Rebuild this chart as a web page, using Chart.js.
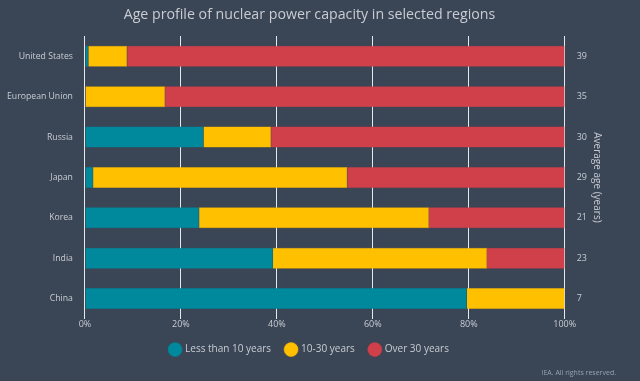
<!DOCTYPE html>
<html>
<head>
<meta charset="utf-8">
<script src="https://cdn.jsdelivr.net/npm/chart.js@4"></script>
<style>
  html, body { margin: 0; padding: 0; background: #3a4556; }
  #wrap { width: 640px; height: 381px; position: relative; }
</style>
</head>
<body>
<div id="wrap"><canvas id="c" width="640" height="381"></canvas></div>
<script>
const categories = ['United States', 'European Union', 'Russia', 'Japan', 'Korea', 'India', 'China'];
const lessThan10 = [0.7, 0, 24.7, 1.7, 23.8, 39.2, 79.6];
const tenTo30 = [8.1, 16.7, 14.1, 53.0, 47.9, 44.6, 20.4];
const over30 = [91.2, 83.3, 61.2, 45.3, 28.3, 16.2, 0];
const averageAge = ['39', '35', '30', '29', '21', '23', '7'];
const xTicks = [0, 20, 40, 60, 80, 100];

const textColor = '#c9cdd3';
const fontFamily = '"Open Sans", sans-serif';

new Chart(document.getElementById('c'), {
  type: 'bar',
  data: {
    labels: categories,
    datasets: [
      { label: 'Less than 10 years', data: lessThan10, backgroundColor: '#00889d', borderColor: '#007f92', borderWidth: 0.5 },
      { label: '10-30 years', data: tenTo30, backgroundColor: '#ffc000', borderColor: '#e8a800', borderWidth: 0.5 },
      { label: 'Over 30 years', data: over30, backgroundColor: '#d0404a', borderColor: '#c03a44', borderWidth: 0.5 }
    ]
  },
  options: {
    indexAxis: 'y',
    responsive: false,
    animation: false,
    devicePixelRatio: 1,
    layout: { padding: { left: 3, right: 24, top: 0, bottom: 0 } },
    datasets: { bar: { barPercentage: 0.52, categoryPercentage: 1.0 } },
    scales: {
      x: {
        stacked: true,
        min: 0, max: 100,
        afterBuildTicks: (s) => { s.ticks = xTicks.map(v => ({ value: v })); },
        ticks: { color: textColor, font: { family: fontFamily, size: 9 }, padding: 0, callback: v => v + '%' },
        grid: { color: '#e6e8ea', lineWidth: 1, drawTicks: false },
        border: { display: false }
      },
      y: {
        stacked: true,
        position: 'left',
        ticks: { color: textColor, font: { family: fontFamily, size: 8.7 }, padding: 4 },
        grid: { display: false },
        border: { display: false }
      },
      y2: {
        type: 'category',
        labels: averageAge,
        position: 'right',
        offset: true,
        ticks: { color: textColor, font: { family: fontFamily, size: 9 }, padding: 4 },
        grid: { display: false },
        border: { display: false },
        title: { display: true, text: 'Average age (years)', color: textColor, font: { family: fontFamily, size: 10 }, padding: { top: 13, bottom: 0 } }
      }
    },
    plugins: {
      title: {
        display: true,
        text: 'Age profile of nuclear power capacity in selected regions',
        color: textColor,
        font: { family: fontFamily, size: 14.2, weight: 'normal' },
        padding: { top: 6, bottom: 13 }
      },
      subtitle: {
        display: true,
        position: 'bottom',
        align: 'end',
        text: 'IEA. All rights reserved.',
        color: '#9aa1ab',
        font: { family: fontFamily, size: 7 },
        padding: { top: 4, bottom: 4 }
      },
      legend: {
        position: 'bottom',
        labels: {
          color: textColor,
          font: { family: fontFamily, size: 10 },
          usePointStyle: true,
          pointStyle: 'circle',
          boxWidth: 10,
          boxHeight: 10,
          padding: 15
        }
      },
      tooltip: { enabled: false }
    }
  }
});
</script>
</body>
</html>
